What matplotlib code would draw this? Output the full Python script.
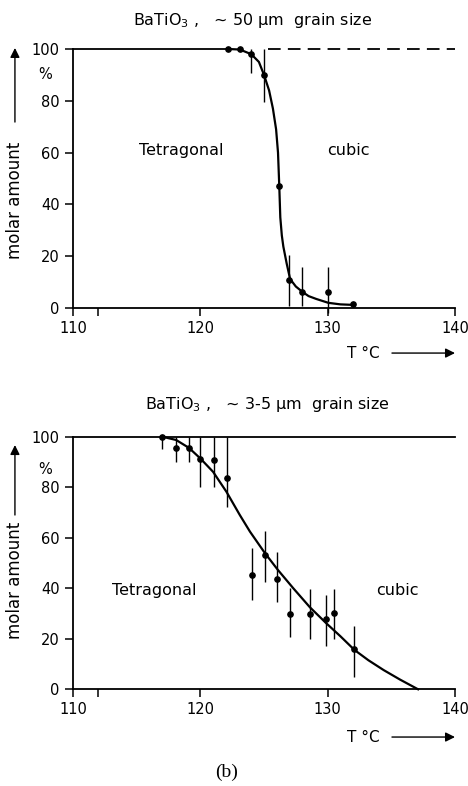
import matplotlib
matplotlib.use("Agg")
import matplotlib.pyplot as plt
import numpy as np

plt.rcParams["font.family"] = ["DejaVu Sans"]
plt.rcParams["mathtext.default"] = "regular"

# panel (top): ~50 um grain size
T50 = [122.2, 123.1, 124.0, 125.0, 126.2, 127.0, 128.0, 130.05, 132.0]
y50 = [100, 100, 98, 90, 47, 10.8, 6.3, 6.0, 1.5]
lo50 = [100, 100, 90.7, 79.7, 47, 0.8, 0.8, -2.0, 1.5]
hi50 = [100, 100, 100, 100, 47, 20.5, 15.7, 15.7, 1.5]
fitT50 = [122.2, 123.1, 124.0, 124.6, 125.0, 125.4, 125.7, 125.95, 126.1, 126.2,
          126.28, 126.4, 126.52, 126.78, 127.05, 127.5, 128.0, 128.5, 129.1,
          130.05, 131.0, 132.0]
fity50 = [100, 99.8, 98, 95, 90, 84, 77, 69, 60, 47,
          35, 28, 23.7, 17.2, 11.2, 8.3, 6.3, 4.6, 3.5,
          2.0, 1.4, 1.2]

# panel (bottom): ~3-5 um grain size
T35 = [117.0, 118.1, 119.1, 120.0, 121.1, 122.1, 124.07, 125.1, 126.0, 127.05,
       128.6, 129.9, 130.5, 132.1]
y35 = [100, 95.6, 95.6, 91.2, 90.8, 83.5, 45.2, 53.2, 43.5, 29.8,
       29.8, 27.7, 30.3, 15.8]
lo35 = [95, 90.1, 90.1, 80.2, 80.2, 72.3, 35.4, 42.6, 34.5, 20.8,
        20.0, 17.1, 20.0, 5.0]
hi35 = [100, 100, 100, 100, 100, 100, 55.8, 62.8, 54.5, 40.0,
        39.6, 37.3, 39.6, 25.1]
fitT35 = [117.0, 118.1, 119.1, 120.0, 121.0, 122.05, 123.1, 123.9, 125.06, 126.1,
          127.3, 128.6, 129.9, 131.0, 132.1, 133.2, 134.4, 135.7, 137.1]
fity35 = [100, 98.7, 95.6, 91.4, 86.1, 78.2, 69, 62.4, 54, 47.2,
          40, 32.5, 26.1, 21, 15.6, 11.5, 7.6, 3.8, 0]

xticks = [110, 120, 130, 140]
yticks = [0, 20, 40, 60, 80, 100]

W, H = 468, 786
fig = plt.figure(figsize=(W / 100, H / 100), dpi=100)


def px_axes(left, right, y0, y100):
    return fig.add_axes([left / W, 1 - y0 / H, (right - left) / W, (y0 - y100) / H])


def style_axes(ax):
    ax.set_xlim(110, 140)
    ax.set_ylim(0, 100)
    for s in ["top", "right"]:
        ax.spines[s].set_visible(False)
    for s in ["left", "bottom"]:
        ax.spines[s].set_linewidth(1.3)
    ax.set_xticks(xticks)
    ax.set_xticks([112], minor=True)
    ax.set_yticks(yticks)
    ax.tick_params(direction="out", length=6, width=1.1, labelsize=10.5)
    ax.tick_params(which="minor", direction="out", length=6, width=1.1)


def draw_points(ax, T, y, lo, hi):
    y = np.array(y)
    err = [y - np.array(lo), np.array(hi) - y]
    ax.errorbar(T, y, yerr=err, fmt="o", color="black", ms=3.8,
                elinewidth=1.0, capsize=0, clip_on=False, zorder=4)


def side_labels(ax, arrow_lo, arrow_hi, text_y, pct_y, tc_y):
    ax.annotate("", xy=(-0.152, arrow_hi), xytext=(-0.152, arrow_lo),
                xycoords="axes fraction",
                arrowprops=dict(arrowstyle="-|>", lw=1.0, color="black",
                                mutation_scale=14, shrinkA=0, shrinkB=0))
    ax.text(-0.152, text_y, "molar amount", transform=ax.transAxes, rotation=90,
            ha="center", va="center", fontsize=12)
    ax.text(-0.073, pct_y, "%", transform=ax.transAxes,
            ha="center", va="center", fontsize=10.5)
    ax.text(0.76, tc_y, "T °C", transform=ax.transAxes, ha="center", va="center",
            fontsize=11)
    ax.annotate("", xy=(1.0, tc_y), xytext=(0.835, tc_y), xycoords="axes fraction",
                arrowprops=dict(arrowstyle="-|>", lw=1.0, color="black",
                                mutation_scale=14, shrinkA=0, shrinkB=0))


# top panel
ax1 = px_axes(73, 455, 308, 49)
style_axes(ax1)
ax1.plot([110, 122.2], [100, 100], color="black", lw=1.3, clip_on=False)
ax1.plot([125.3, 140], [100, 100], color="black", lw=1.3, ls=(0, (7, 4)),
         clip_on=False)
ax1.plot(fitT50, fity50, color="black", lw=1.6, clip_on=False, zorder=3)
draw_points(ax1, T50, y50, lo50, hi50)
ax1.text(118.5, 61, "Tetragonal", ha="center", va="center", fontsize=11.5)
ax1.text(131.6, 61, "cubic", ha="center", va="center", fontsize=11.5)
side_labels(ax1, 0.718, 1.004, 0.417, 0.9, -0.174)
fig.text(253 / W, 1 - 20 / H, "BaTiO$_3$ ,   ~ 50 µm  grain size",
         ha="center", va="center", fontsize=11.5)

# bottom panel
ax2 = px_axes(73, 455, 689.3, 436.7)
style_axes(ax2)
ax2.plot([110, 140], [100, 100], color="black", lw=1.3, clip_on=False)
ax2.plot(fitT35, fity35, color="black", lw=1.6, clip_on=False, zorder=3)
draw_points(ax2, T35, y35, lo35, hi35)
ax2.text(116.4, 39.3, "Tetragonal", ha="center", va="center", fontsize=11.5)
ax2.text(135.5, 39.3, "cubic", ha="center", va="center", fontsize=11.5)
side_labels(ax2, 0.69, 0.967, 0.433, 0.87, -0.189)
fig.text(267 / W, 1 - 405 / H, "BaTiO$_3$ ,   ~ 3-5 µm  grain size",
         ha="center", va="center", fontsize=11.5)

fig.text(227 / W, 1 - 772 / H, "(b)", ha="center", va="center", fontsize=14,
         family="Liberation Serif")

fig.savefig("out.png", dpi=100, facecolor="white")
